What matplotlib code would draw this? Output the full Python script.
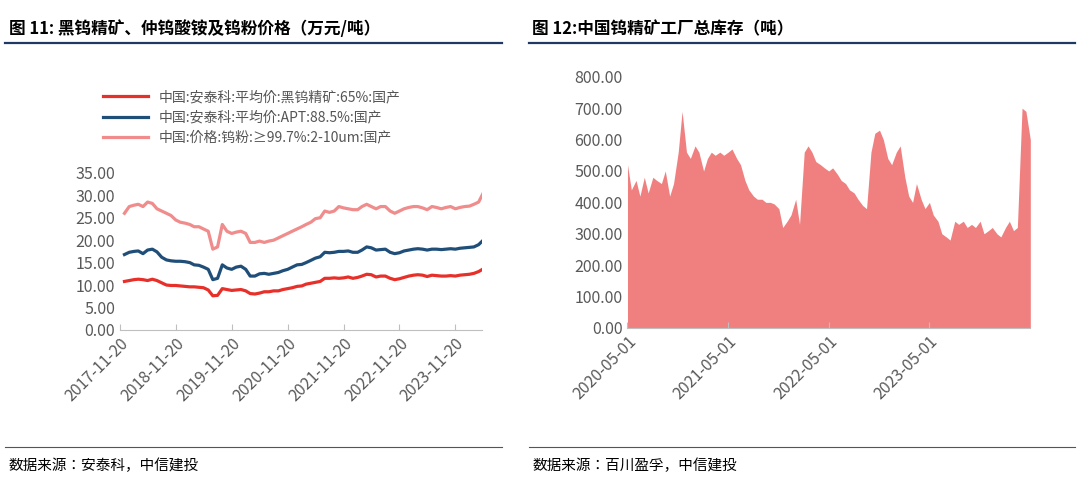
import numpy as np
import pandas as pd
import matplotlib.pyplot as plt
from matplotlib import font_manager as fm
from matplotlib.lines import Line2D

# pick whichever CJK family matplotlib actually registered
cjk = [f.name for f in fm.fontManager.ttflist if "CJK" in f.name]
cjk_name = "Noto Sans CJK SC" if "Noto Sans CJK SC" in cjk else (cjk[0] if cjk else "DejaVu Sans")
plt.rcParams["font.family"] = [cjk_name, "DejaVu Sans"]
plt.rcParams["axes.unicode_minus"] = False

# ----------- DATA -----------
# monthly, 2017-11 .. 2024-04 (万元/吨)
wolframite = [10.8, 11.0, 11.2, 11.3, 11.2, 11.0, 11.3, 11.0, 10.5, 10.0, 9.9, 9.9,
              9.8, 9.7, 9.6, 9.6, 9.5, 9.4, 8.9, 7.6, 7.7, 9.2, 9.0, 8.8,
              8.9, 9.0, 8.7, 8.1, 8.0, 8.2, 8.5, 8.5, 8.7, 8.7, 9.0, 9.2,
              9.4, 9.7, 9.8, 10.2, 10.4, 10.6, 10.8, 11.5, 11.5, 11.6, 11.5, 11.6,
              11.8, 11.5, 11.7, 12.0, 12.4, 12.3, 11.8, 12.0, 12.0, 11.5, 11.2, 11.4,
              11.7, 12.0, 12.2, 12.3, 12.2, 11.9, 12.2, 12.1, 12.0, 12.0, 12.1, 12.0,
              12.2, 12.3, 12.4, 12.6, 13.0, 13.6]
apt = [16.8, 17.3, 17.5, 17.6, 17.0, 17.8, 18.0, 17.4, 16.2, 15.6, 15.4, 15.3,
       15.3, 15.2, 15.0, 14.5, 14.4, 14.0, 13.5, 11.2, 11.5, 14.5, 13.8, 13.5,
       14.0, 14.2, 13.5, 12.0, 12.0, 12.5, 12.6, 12.4, 12.6, 12.8, 13.2, 13.5,
       14.0, 14.5, 14.6, 15.0, 15.5, 16.0, 16.3, 17.3, 17.2, 17.3, 17.5, 17.5,
       17.6, 17.3, 17.3, 17.8, 18.5, 18.3, 17.8, 17.9, 18.0, 17.3, 17.0, 17.2,
       17.6, 17.8, 18.0, 18.1, 18.0, 17.8, 18.0, 18.0, 17.9, 18.0, 18.1, 18.0,
       18.2, 18.3, 18.4, 18.5, 19.0, 20.0]
powder = [26.0, 27.5, 27.8, 28.0, 27.5, 28.5, 28.2, 27.0, 26.5, 26.0, 25.5, 24.5,
          24.0, 23.8, 23.5, 23.0, 23.0, 22.5, 22.0, 18.0, 18.5, 23.5, 22.0, 21.5,
          21.8, 22.0, 21.5, 19.5, 19.5, 19.8, 19.5, 19.8, 20.0, 20.5, 21.0, 21.5,
          22.0, 22.5, 23.0, 23.5, 24.0, 24.8, 25.0, 26.5, 26.2, 26.5, 27.5, 27.2,
          27.0, 26.8, 26.8, 27.5, 28.0, 27.5, 27.0, 27.5, 27.5, 26.5, 26.0, 26.5,
          27.0, 27.3, 27.5, 27.5, 27.2, 26.8, 27.5, 27.3, 27.0, 27.3, 27.5, 27.0,
          27.3, 27.5, 27.6, 28.0, 28.5, 30.5]
left_labels = ["中国:安泰科:平均价:黑钨精矿:65%:国产",
               "中国:安泰科:平均价:APT:88.5%:国产",
               "中国:价格:钨粉:≥99.7%:2-10um:国产"]
left_colors = ["#e8302a", "#1f4e79", "#f08c8c"]
left_ticks = ["2017-11-20", "2018-11-20", "2019-11-20", "2020-11-20",
              "2021-11-20", "2022-11-20", "2023-11-20"]

# semimonthly, 2020-05 .. 2024-05 (吨)
inventory = [520, 440, 470, 420, 480, 430, 480, 470, 460, 500, 420, 460, 560, 690, 560,
             540, 580, 560, 500, 540, 560, 550, 560, 550, 560, 570, 540, 520, 470, 440,
             420, 410, 410, 400, 400, 395, 380, 320, 340, 360, 410, 330, 560, 580, 560,
             530, 520, 510, 500, 510, 490, 470, 460, 440, 430, 410, 390, 380, 560, 620,
             630, 600, 540, 520, 560, 580, 480, 420, 400, 460, 410, 380, 400, 360, 340,
             300, 290, 280, 340, 330, 340, 320, 330, 320, 340, 300, 310, 320, 300, 290,
             320, 340, 310, 320, 700, 690, 600]
right_ticks = ["2020-05-01", "2021-05-01", "2022-05-01", "2023-05-01"]

# ----------- FIGURE -----------
fig = plt.figure(figsize=(10.8, 4.83), dpi=100)

fig.text(0.008, 0.94, "图 11: 黑钨精矿、仲钨酸铵及钨粉价格（万元/吨）", fontsize=12,
         fontweight="bold", va="center")
fig.text(0.493, 0.94, "图 12:中国钨精矿工厂总库存（吨）", fontsize=12,
         fontweight="bold", va="center")
for x0, x1 in [(0.005, 0.465), (0.49, 0.995)]:
    fig.add_artist(Line2D([x0, x1], [0.91, 0.91], color="#1f3864", lw=1.6))
    fig.add_artist(Line2D([x0, x1], [0.075, 0.075], color="#555555", lw=0.8))
fig.text(0.008, 0.035, "数据来源：安泰科，中信建投", fontsize=10.5, style="italic", va="center")
fig.text(0.493, 0.035, "数据来源：百川盈孚，中信建投", fontsize=10.5, style="italic", va="center")

# ----------- LEFT -----------
ax1 = fig.add_axes([0.111, 0.317, 0.335, 0.325])
for vals, lab, col in zip([wolframite, apt, powder], left_labels, left_colors):
    d = pd.date_range("2017-11-20", periods=len(vals), freq="MS") + pd.Timedelta(days=19)
    ax1.plot(d, vals, color=col, lw=2.3, label=lab)
ax1.set_ylim(0, 35)
ax1.set_yticks(np.arange(0, 36, 5))
ax1.yaxis.set_major_formatter(plt.FormatStrFormatter("%.2f"))
ax1.set_xlim(pd.Timestamp("2017-11-20"), pd.Timestamp("2024-05-10"))
ax1.set_xticks(pd.to_datetime(left_ticks))
ax1.set_xticklabels(left_ticks, rotation=45, ha="right", rotation_mode="anchor")
ax1.legend(loc="lower left", bbox_to_anchor=(-0.08, 1.1), frameon=False, fontsize=10,
           handlelength=3.2, labelspacing=0.45, labelcolor="#555555")

# ----------- RIGHT -----------
ax2 = fig.add_axes([0.581, 0.321, 0.373, 0.52])
d2 = pd.date_range("2020-05-01", periods=len(inventory), freq="SMS")
ax2.fill_between(d2, inventory, 0, color="#f08080", lw=0)
ax2.set_ylim(0, 800)
ax2.set_yticks(np.arange(0, 801, 100))
ax2.yaxis.set_major_formatter(plt.FormatStrFormatter("%.2f"))
ax2.set_xlim(d2[0], d2[-1])
ax2.set_xticks(pd.to_datetime(right_ticks))
ax2.set_xticklabels(right_ticks, rotation=45, ha="right", rotation_mode="anchor")

for ax in (ax1, ax2):
    for s in ("top", "right", "left"):
        ax.spines[s].set_visible(False)
    ax.spines["bottom"].set_color("#bfbfbf")
    ax.tick_params(axis="y", length=0, labelsize=11.5, labelcolor="#595959")
    ax.tick_params(axis="x", labelsize=11.5, labelcolor="#595959", color="#bfbfbf",
                   direction="in", length=4)

fig.savefig("out.png", dpi=100)
